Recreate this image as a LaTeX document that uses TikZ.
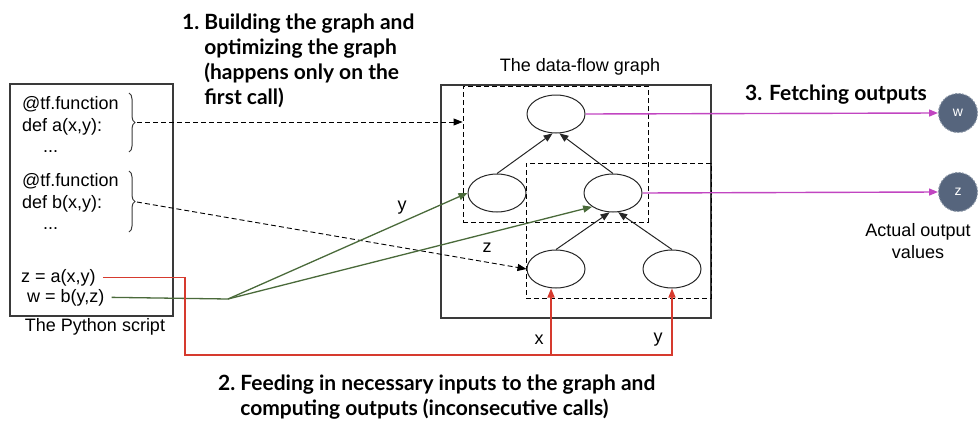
\documentclass[tikz,border=0pt]{standalone}
\usepackage{fontspec}
\setmainfont{Liberation Sans}
\newfontfamily\headfont{Lato}
\usepackage{xcolor}
\usepackage{tikz}
\usetikzlibrary{arrows.meta,shapes.geometric,positioning,calc,decorations.pathreplacing}
\definecolor{dfgreen}{HTML}{4A6A3A}
\definecolor{dfred}{HTML}{D63A2E}
\definecolor{dfpink}{HTML}{C145C1}
\definecolor{dfslate}{HTML}{56657D}
\definecolor{dfrim}{HTML}{8A96A6}
\definecolor{dfgrey}{HTML}{3A3A3A}
\tikzset{
  dftext/.style={font=\fontsize{18}{22}\selectfont, inner sep=0pt},
  dfcode/.style={dftext, anchor=base west, inner xsep=7pt},
  dfhead/.style={font=\headfont\bfseries\fontsize{21}{25}\selectfont, inner sep=0pt},
  dfbox/.style={draw=dfgrey, line width=1.3pt, inner sep=0pt},
  dfgroup/.style={draw=black, line width=0.9pt, dash pattern=on 5pt off 3pt, inner sep=0pt},
  dfop/.style={
    ellipse, draw=black!85, line width=1pt,
    minimum width=58pt, minimum height=38pt, inner sep=0pt
  },
  dfout/.style={
    circle, fill=dfslate, draw=dfrim, line width=1pt, dash pattern=on 2pt off 1.5pt,
    minimum size=39pt, inner sep=0pt, text=white, font=\fontsize{14}{16}\selectfont
  },
  dfedge/.style={-{Triangle[length=9pt,width=7pt]}, line width=1pt, color=black!85},
  dftrace/.style={dfedge, color=black, line width=0.9pt, dash pattern=on 5pt off 3pt},
  dffeed/.style={dfedge, color=dfred, line width=1.4pt},
  dfarg/.style={dfedge, color=dfgreen, line width=1.3pt},
  dffetch/.style={dfedge, color=dfpink, line width=1.4pt},
  dfbrace/.style={decorate, decoration={brace, amplitude=6pt}, line width=1pt, draw=dfgrey}
}

\begin{document}
\begin{tikzpicture}[x=1pt,y=-1pt]
  \useasboundingbox (0,0) rectangle (979,420);
  % the python script
  \node[dfbox, minimum width=163pt, minimum height=232pt] (pybox) at (91.5,200) {};
  \node[dftext] (pycap) at (95,327) {The Python script};
  \node[dfcode] (deca) at (15,109) {@tf.function};
  \node[dfcode] (defa) at (15,131) {def a(x,y):};
  \node[dfcode] (bodya) at (36,152) {...};
  \node[dfcode] (decb) at (15,186) {@tf.function};
  \node[dfcode] (defb) at (15,208) {def b(x,y):};
  \node[dfcode] (bodyb) at (36,229) {...};
  \node[dfcode] (zcall) at (14,282) {z = a(x,y)};
  \node[dfcode] (wcall) at (20,302) {w = b(y,z)};
  \draw[dfbrace] (129,93) -- (129,152);
  \draw[dfbrace] (129,171) -- (129,232);
  \coordinate (bra) at (137,122);
  \coordinate (brb) at (137,202);

  % the data-flow graph
  \node[dfbox, minimum width=270pt, minimum height=233pt] (dfg) at (576,201.5) {};
  \node[dftext] (dfcap) at (580,67) {The data-flow graph};
  \node[dfgroup, minimum width=185pt, minimum height=136pt] (grpa) at (555.5,154) {};
  \node[dfgroup, minimum width=185pt, minimum height=135pt] (grpb) at (618.5,230.5) {};
  \node[dfop] (A) at (556,114) {};
  \node[dfop] (B) at (497,193) {};
  \node[dfop] (C) at (613,193) {};
  \node[dfop] (D) at (556,269) {};
  \node[dfop] (E) at (672,269) {};
  \draw[dfedge] (B.north) -- (A.260);
  \draw[dfedge] (C.north) -- (A.280);
  \draw[dfedge] (D.north) -- (C.260);
  \draw[dfedge] (E.north) -- (C.285);

  % step 1: tracing
  \draw[dftrace] (bra) -- (bra -| grpa.west);
  \draw[dftrace] (brb) -- (D.west);
  \node[dfhead, anchor=north west] (step1) at (182,12) {\begin{tabular}{@{}l@{\hspace{5pt}}l@{}}1.&Building the graph and\\&optimizing the graph\\&(happens only on the\\&first call)\end{tabular}};

  % step 2: inputs
  \coordinate (gsplit) at (228,299);
  \draw[dfgreen, line width=1.3pt] (wcall.east) -- (gsplit);
  \draw[dfarg] (gsplit) -- (B.west);
  \draw[dfarg] (gsplit) -- (C.south west);
  \node[dftext] (ylab) at (402,208) {y};
  \node[dftext] (zlab) at (487,248) {z};
  \coordinate (rbot) at (185,355);
  \coordinate (xin) at ([xshift=-5pt]D.south);
  \draw[dffeed] (zcall.east) -| (rbot) -| (E.south);
  \draw[dffeed] (xin |- rbot) -- (xin);
  \node[dftext] (xlab) at (539,340) {x};
  \node[dftext] (ylab2) at (658,340) {y};
  \node[dfhead, anchor=north west] (step2) at (218,373) {\begin{tabular}{@{}l@{\hspace{5pt}}l@{}}2.&Feeding in necessary inputs to the graph and\\&computing outputs (inconsecutive calls)\end{tabular}};

  % step 3: outputs
  \node[dfout] (wout) at (958,113) {w};
  \node[dfout] (zout) at (958,192) {z};
  \draw[dffetch] (A.east) -- (wout.west);
  \draw[dffetch] (C.east) -- (zout.west);
  \node[dfhead, anchor=base west] (step3) at (745,100.5) {3. Fetching outputs};
  \node[dftext, align=center] (outcap) at (918,241) {Actual output\\values};
\end{tikzpicture}
\end{document}
